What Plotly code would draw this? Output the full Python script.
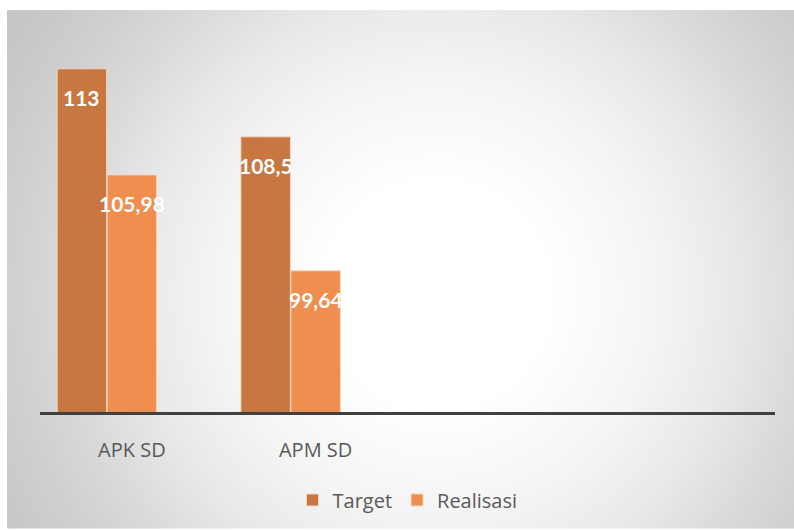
import plotly.graph_objects as go
import urllib.parse

categories = ["APK SD", "APM SD"]
target = [113, 108.5]
realisasi = [105.98, 99.64]
series_names = ["Target", "Realisasi"]
colors = ["#C7773F", "#EF8E4E"]

W, H = 794, 530
L, R, T, B = 40, 19, 34, 117
pw, ph = W - L - R, H - T - B

def fmt(v):
    return ("%g" % v).replace(".", ",")

fig = go.Figure()
for name, vals, col in zip(series_names, [target, realisasi], colors):
    fig.add_trace(go.Bar(
        x=categories, y=vals, name=name,
        marker=dict(color=col, line=dict(color="#F3D5C0", width=1)),
        textposition="none", hoverinfo="x+y",
    ))
# third (empty) series slot, as in the original chart
fig.add_trace(go.Bar(x=categories, y=[None, None], showlegend=False, hoverinfo="skip"))

# data labels
annos = []
for vals, shift in [(target, -50), (realisasi, 0)]:
    for c, v in zip(categories, vals):
        annos.append(dict(x=c, y=v, xref="x", yref="y", text=fmt(v), showarrow=False,
                          xshift=shift, yshift=-29,
                          font=dict(family="Lato", size=21, color="white", weight="bold")))

svg = '''<svg xmlns="http://www.w3.org/2000/svg" width="787" height="520" viewBox="0 0 787 520">
<defs><radialGradient id="g" gradientUnits="userSpaceOnUse" cx="430" cy="285" r="510" fx="430" fy="285">
<stop offset="0" stop-color="#ffffff"/>
<stop offset="0.22" stop-color="#ffffff"/>
<stop offset="0.42" stop-color="#f5f5f5"/>
<stop offset="0.58" stop-color="#e9e9e9"/>
<stop offset="0.72" stop-color="#dadada"/>
<stop offset="0.83" stop-color="#d0d0d0"/>
<stop offset="0.93" stop-color="#c9c9c9"/>
<stop offset="1" stop-color="#c5c5c5"/></radialGradient></defs>
<rect x="0" y="0" width="787" height="520" fill="url(#g)"/></svg>'''
src = "data:image/svg+xml;charset=utf-8," + urllib.parse.quote(svg)

fig.update_layout(
    width=W, height=H,
    margin=dict(l=L, r=R, t=T, b=B),
    paper_bgcolor="white", plot_bgcolor="rgba(0,0,0,0)",
    barmode="group", bargap=0.184, bargroupgap=0.01,
    images=[dict(source=src, xref="paper", yref="paper",
                 x=(7 - L) / pw, y=(H - B - 10) / ph,
                 sizex=787 / pw, sizey=520 / ph,
                 sizing="stretch", xanchor="left", yanchor="top", layer="below")],
    xaxis=dict(range=[-0.5, 3.5], showgrid=False, zeroline=False,
               showline=True, linecolor="#404040", linewidth=3,
               ticks="", tickfont=dict(family="Open Sans", size=20, color="#595959"),
               ticklabelstandoff=18),
    yaxis=dict(range=[90.3, 115.3], visible=False),
    showlegend=True,
    legend=dict(orientation="h", x=0.5, xanchor="center", y=(H - B - 500) / ph, yanchor="middle",
                font=dict(family="Open Sans", size=20, color="#595959"),
                bgcolor="rgba(0,0,0,0)", itemwidth=30),
    annotations=annos,
    font=dict(family="Open Sans"),
)

fig.write_html("out.html")
